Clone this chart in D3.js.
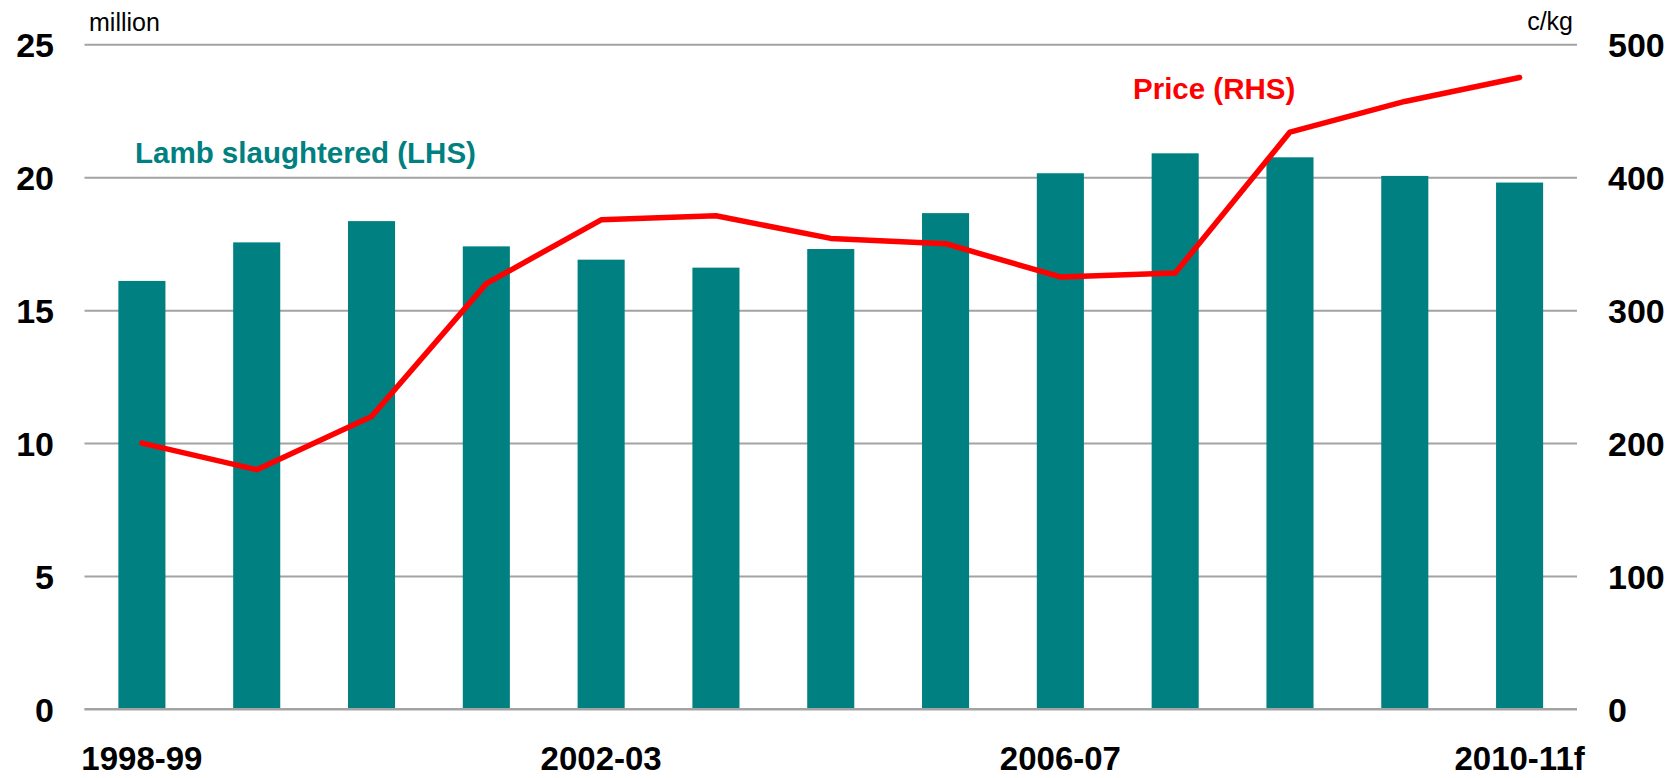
<!DOCTYPE html>
<html>
<head>
<meta charset="utf-8">
<script src="https://cdn.jsdelivr.net/npm/d3@7"></script>
<style>
  body { margin: 0; background: #fff; }
  text { font-family: "Liberation Sans", Arial, sans-serif; }
</style>
</head>
<body>
<div id="vis"></div>
<script>
const FRAME_WIDTH = 1679;
const FRAME_HEIGHT = 778;
const MARGINS = {left: 84.5, right: 102, top: 44.3, bottom: 69};

const VIS_WIDTH = FRAME_WIDTH - MARGINS.left - MARGINS.right;
const VIS_HEIGHT = FRAME_HEIGHT - MARGINS.top - MARGINS.bottom;

// data
const years = ["1998-99", "1999-00", "2000-01", "2001-02", "2002-03", "2003-04", "2004-05",
               "2005-06", "2006-07", "2007-08", "2008-09", "2009-10", "2010-11f"];
const lamb = [16.1, 17.55, 18.35, 17.4, 16.9, 16.6, 17.3, 18.65, 20.15, 20.9, 20.75, 20.05, 19.8];
const price = [200, 180, 220, 320, 368, 371, 354, 350, 325, 328, 434, 457, 475];
const xTickLabels = ["1998-99", "2002-03", "2006-07", "2010-11f"];
const leftTicks = [0, 5, 10, 15, 20, 25];
const rightTicks = [0, 100, 200, 300, 400, 500];

const TEAL = "#008080";
const RED = "#ff0000";
const GRID = "#a3a3a3";

const svg = d3.select("#vis")
  .append("svg")
    .attr("width", FRAME_WIDTH)
    .attr("height", FRAME_HEIGHT);

const FRAME = svg.append("g")
    .attr("transform", "translate(" + MARGINS.left + "," + MARGINS.top + ")");

const x = d3.scaleBand()
  .domain(years)
  .range([0, VIS_WIDTH])
  .paddingInner(0.59)
  .paddingOuter(0.295);

const yL = d3.scaleLinear().domain([0, 25]).range([VIS_HEIGHT, 0]);
const yR = d3.scaleLinear().domain([0, 500]).range([VIS_HEIGHT, 0]);

// left axis + gridlines
const leftAxis = FRAME.append("g")
  .call(d3.axisLeft(yL).tickValues(leftTicks).tickSizeInner(-VIS_WIDTH).tickSizeOuter(0).tickPadding(30));
leftAxis.select(".domain").remove();
leftAxis.selectAll("line").attr("stroke", GRID).attr("stroke-width", 2);
leftAxis.selectAll("text")
  .attr("x", -30.5)
  .attr("dy", "0.36em")
  .style("font-size", "34px")
  .style("font-weight", "bold")
  .attr("fill", "#000");

// right axis labels
const rightAxis = FRAME.append("g")
  .attr("transform", "translate(" + VIS_WIDTH + ",0)")
  .call(d3.axisRight(yR).tickValues(rightTicks).tickSize(0).tickPadding(31));
rightAxis.select(".domain").remove();
rightAxis.selectAll("text")
  .attr("dy", "0.36em")
  .style("font-size", "34px")
  .style("font-weight", "bold")
  .attr("fill", "#000");

// bars
FRAME.selectAll(".bar")
  .data(years)
  .enter()
  .append("rect")
    .attr("class", "bar")
    .attr("x", d => x(d))
    .attr("y", (d, i) => yL(lamb[i]))
    .attr("width", x.bandwidth())
    .attr("height", (d, i) => VIS_HEIGHT - yL(lamb[i]))
    .attr("fill", TEAL);

// zero line over the bars
FRAME.append("line")
  .attr("x1", 0).attr("x2", VIS_WIDTH)
  .attr("y1", VIS_HEIGHT).attr("y2", VIS_HEIGHT)
  .attr("stroke", GRID).attr("stroke-width", 2);

// price line
const line = d3.line()
  .x((d, i) => x(years[i]) + x.bandwidth() / 2)
  .y(d => yR(d));

FRAME.append("path")
  .datum(price)
  .attr("d", line)
  .attr("fill", "none")
  .attr("stroke", RED)
  .attr("stroke-width", 5.5)
  .attr("stroke-linejoin", "round")
  .attr("stroke-linecap", "round");

// x axis labels (kept just inside the bottom edge)
const bottomAxis = FRAME.append("g")
  .attr("transform", "translate(0," + VIS_HEIGHT + ")")
  .call(d3.axisBottom(x).tickValues(xTickLabels).tickSize(0));
bottomAxis.select(".domain").remove();
bottomAxis.selectAll("text")
  .attr("y", 61)
  .attr("dy", null)
  .style("font-size", "33px")
  .style("font-weight", "bold")
  .attr("fill", "#000");

// unit labels
svg.append("text")
  .attr("x", 89).attr("y", 31)
  .style("font-size", "25px")
  .attr("fill", "#000")
  .text("million");

svg.append("text")
  .attr("x", 1573).attr("y", 30)
  .attr("text-anchor", "end")
  .style("font-size", "25px")
  .attr("fill", "#000")
  .text("c/kg");

// series labels
svg.append("text")
  .attr("x", 135).attr("y", 163)
  .style("font-size", "29.5px")
  .style("font-weight", "bold")
  .attr("fill", TEAL)
  .text("Lamb slaughtered (LHS)");

svg.append("text")
  .attr("x", 1133).attr("y", 99)
  .style("font-size", "29.5px")
  .style("font-weight", "bold")
  .attr("fill", RED)
  .text("Price (RHS)");
</script>
</body>
</html>
